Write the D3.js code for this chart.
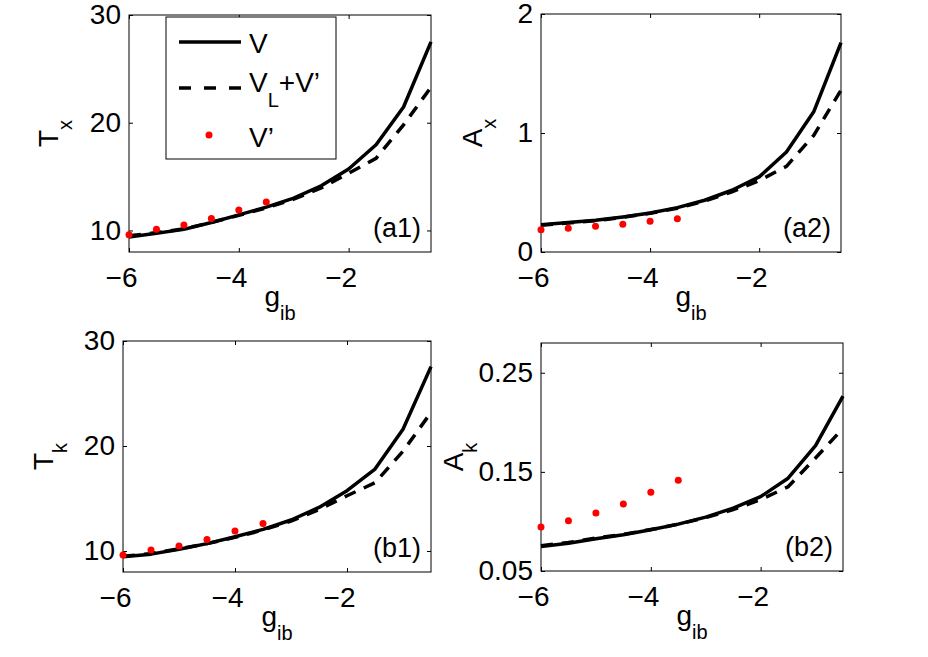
<!DOCTYPE html>
<html>
<head>
<meta charset="utf-8">
<script src="https://cdn.jsdelivr.net/npm/d3@7"></script>
<style>
  body { margin: 0; background: #fff; }
  text { font-family: "Liberation Sans", Arial, Helvetica, sans-serif; fill: #000; }
</style>
</head>
<body>
<div id="chart-area"></div>
<script>
// g_ib grid for the lines, and the points where V' was computed
var gib = [-6, -5.5, -5, -4.5, -4, -3.5, -3, -2.5, -2, -1.5, -1, -0.5];
var gibDots = [-6, -5.5, -5, -4.5, -4, -3.5];

// (a1) T_x
var TxV  = [9.4, 9.75, 10.1, 10.74, 11.45, 12.17, 13.0, 14.15, 15.7, 17.96, 21.46, 27.5];
var TxVL = [9.5, 9.8, 10.15, 10.75, 11.4, 12.1, 12.9, 13.95, 15.3, 16.7, 19.8, 23.3];
var TxVp = [9.6, 10.12, 10.5, 11.11, 11.9, 12.63];

// (a2) A_x
var AxV  = [0.23, 0.247, 0.266, 0.295, 0.328, 0.373, 0.435, 0.519, 0.631, 0.84, 1.178, 1.76];
var AxVL = [0.225, 0.243, 0.263, 0.292, 0.325, 0.368, 0.428, 0.505, 0.60, 0.72, 0.98, 1.36];
var AxVp = [0.188, 0.199, 0.216, 0.233, 0.258, 0.28];

// (b1) T_k
var TkV  = [9.46, 9.7, 10.16, 10.7, 11.36, 12.06, 12.95, 14.15, 15.74, 17.8, 21.6, 27.56];
var TkVL = [9.5, 9.75, 10.2, 10.7, 11.3, 12.0, 12.85, 13.95, 15.26, 16.5, 19.5, 23.2];
var TkVp = [9.62, 10.1, 10.48, 11.1, 11.9, 12.63];

// (b2) A_k
var AkV  = [0.0748, 0.078, 0.0826, 0.0866, 0.0916, 0.0973, 0.1044, 0.1134, 0.125, 0.1436, 0.1765, 0.2265];
var AkVL = [0.0755, 0.0788, 0.0832, 0.087, 0.0918, 0.0972, 0.1038, 0.112, 0.122, 0.135, 0.164, 0.194];
var AkVp = [0.0943, 0.1007, 0.1084, 0.1175, 0.1295, 0.1416];

var xTicks = [-6, -4, -2];
var TTicks = [10, 20, 30];
var AxTicks = [0, 1, 2];
var AkTicks = [0.05, 0.15, 0.25];

var legendLabels = ["V", "V_L+V\u2019", "V\u2019"];

var W = 928, H = 657;
var fontMain = 28, fontSub = 20;

var svg = d3.select("#chart-area").append("svg")
    .attr("width", W)
    .attr("height", H);

// each subplot box in pixels (left, top, right, bottom)
var panels = [
  { tag: "(a1)", lab: "T", sub: "x", yDom: [8, 30], yTicks: TTicks, fmt: d3.format("d"),
    V: TxV, VL: TxVL, Vp: TxVp, box: [129, 15, 431, 252], labOff: 71, legend: true },
  { tag: "(a2)", lab: "A", sub: "x", yDom: [0, 2], yTicks: AxTicks, fmt: d3.format("d"),
    V: AxV, VL: AxVL, Vp: AxVp, box: [541, 14, 841, 252], labOff: 59 },
  { tag: "(b1)", lab: "T", sub: "k", yDom: [8, 30], yTicks: TTicks, fmt: d3.format("d"),
    V: TkV, VL: TkVL, Vp: TkVp, box: [123, 341, 431, 572], labOff: 70 },
  { tag: "(b2)", lab: "A", sub: "k", yDom: [0.05, 0.28], yTicks: AkTicks, fmt: d3.format(".2f"),
    V: AkV, VL: AkVL, Vp: AkVp, box: [541, 343, 843, 571], labOff: 78 }
];

panels.forEach(function(p) {
  var l = p.box[0], t = p.box[1], r = p.box[2], b = p.box[3];
  var x = d3.scaleLinear().domain([-6, -0.5]).range([l, r]);
  var y = d3.scaleLinear().domain(p.yDom).range([b, t]);
  var g = svg.append("g");

  // box
  g.append("rect")
    .attr("x", l).attr("y", t)
    .attr("width", r - l).attr("height", b - t)
    .attr("fill", "none").attr("stroke", "#000").attr("stroke-width", 1);

  // axes, ticks pointing inward on all four sides
  var xb = g.append("g").attr("transform", "translate(0," + b + ")")
    .call(d3.axisBottom(x).tickValues(xTicks).tickFormat(d3.format("d"))
      .tickSize(-4).tickSizeOuter(0).tickPadding(15));
  // matlab centres the digit, the minus sign hangs to the left
  xb.selectAll("text").attr("text-anchor", "end").attr("x", 8);
  g.append("g").attr("transform", "translate(0," + t + ")")
    .call(d3.axisTop(x).tickValues(xTicks).tickSize(-4).tickSizeOuter(0).tickFormat(""));
  g.append("g").attr("transform", "translate(" + l + ",0)")
    .call(d3.axisLeft(y).tickValues(p.yTicks).tickSize(-4).tickSizeOuter(0).tickPadding(8).tickFormat(p.fmt));
  g.append("g").attr("transform", "translate(" + r + ",0)")
    .call(d3.axisRight(y).tickValues(p.yTicks).tickSize(-4).tickSizeOuter(0).tickFormat(""));

  g.selectAll(".domain").remove();
  g.selectAll(".tick line").attr("stroke", "#000");
  g.selectAll(".tick text").attr("font-size", fontMain).attr("font-family", null).attr("fill", "#000");

  // lines
  var line = d3.line()
    .x(function(d) { return x(d[0]); })
    .y(function(d) { return y(d[1]); });

  g.append("path")
    .datum(d3.zip(gib, p.V))
    .attr("d", line)
    .attr("fill", "none").attr("stroke", "#000").attr("stroke-width", 3.5)
    .attr("stroke-linejoin", "round");

  g.append("path")
    .datum(d3.zip(gib, p.VL))
    .attr("d", line)
    .attr("fill", "none").attr("stroke", "#000").attr("stroke-width", 3.5)
    .attr("stroke-dasharray", "12,9");

  g.selectAll("circle.vp")
    .data(d3.zip(gibDots, p.Vp))
    .enter().append("circle")
    .attr("class", "vp")
    .attr("cx", function(d) { return x(d[0]); })
    .attr("cy", function(d) { return y(d[1]); })
    .attr("r", 3.5)
    .attr("fill", "#ff0000");

  // x label g_ib
  var xl = g.append("text")
    .attr("x", (l + r) / 2).attr("y", b + 54)
    .attr("text-anchor", "middle").attr("font-size", fontMain);
  xl.append("tspan").text("g");
  xl.append("tspan").attr("font-size", fontSub).attr("dy", 14).text("ib");

  // y label
  var yl = g.append("text")
    .attr("transform", "translate(" + (l - p.labOff) + "," + ((t + b) / 2) + ") rotate(-90)")
    .attr("text-anchor", "middle").attr("font-size", fontMain);
  yl.append("tspan").text(p.lab);
  yl.append("tspan").attr("font-size", fontSub).attr("dy", 14).text(p.sub);

  // panel tag
  g.append("text")
    .attr("x", r - 10).attr("y", b - 15)
    .attr("text-anchor", "end").attr("font-size", 27)
    .text(p.tag);

  if (p.legend) drawLegend(g);
});

function drawLegend(g) {
  var lx = 166, ly = 17, lw = 170, lh = 142;
  g.append("rect")
    .attr("x", lx).attr("y", ly).attr("width", lw).attr("height", lh)
    .attr("fill", "#fff").attr("stroke", "#000").attr("stroke-width", 1);

  var rows = [42, 88, 135];
  g.append("line")
    .attr("x1", 179).attr("x2", 241).attr("y1", rows[0]).attr("y2", rows[0])
    .attr("stroke", "#000").attr("stroke-width", 3.5);
  g.append("line")
    .attr("x1", 179).attr("x2", 241).attr("y1", rows[1]).attr("y2", rows[1])
    .attr("stroke", "#000").attr("stroke-width", 3.5).attr("stroke-dasharray", "12,13");
  g.append("circle")
    .attr("cx", 209).attr("cy", rows[2]).attr("r", 3.5).attr("fill", "#ff0000");

  g.append("text").attr("x", 249).attr("y", rows[0] + 11)
    .attr("font-size", fontMain).text(legendLabels[0]);

  var parts = legendLabels[1].split("_");
  var t2 = g.append("text").attr("x", 249).attr("y", rows[1] + 4)
    .attr("font-size", fontMain);
  t2.append("tspan").text(parts[0]);
  t2.append("tspan").attr("font-size", fontSub).attr("dy", 15).text(parts[1].charAt(0));
  t2.append("tspan").attr("dy", -15).text(parts[1].slice(1));

  g.append("text").attr("x", 249).attr("y", rows[2] + 12)
    .attr("font-size", fontMain).text(legendLabels[2]);
}
</script>
</body>
</html>
